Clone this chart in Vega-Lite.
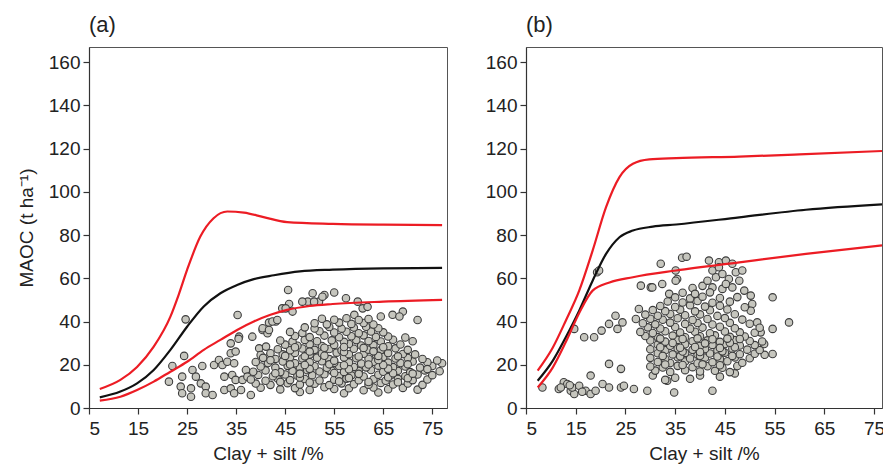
{
 "$schema": "https://vega.github.io/schema/vega-lite/v6.json",
 "background": "white",
 "padding": {"left": 16, "top": 13, "right": 0, "bottom": 0},
 "spacing": 35,
 "config": {
  "view": {"stroke": "#555555", "strokeWidth": 1},
  "axis": {"labelFont": "Liberation Sans", "labelFontSize": 19, "labelColor": "#222222", "titleFont": "Liberation Sans", "titleFontSize": 19, "titleFontWeight": "normal", "titleColor": "#222222", "domainColor": "#333333", "tickColor": "#333333", "grid": false, "domainWidth": 1.2, "tickWidth": 1.2},
  "title": {"font": "Liberation Sans", "fontSize": 22, "fontWeight": "normal", "anchor": "start", "frame": "group", "color": "#222222"}
 },
 "datasets": {
  "a_lines": [
   {"x":7.2,"y":8.8,"s":"upper"},{"x":11.4,"y":13,"s":"upper"},{"x":14.8,"y":19,"s":"upper"},{"x":18.2,"y":28.4,"s":"upper"},{"x":21.6,"y":42.3,"s":"upper"},{"x":23.3,"y":52.5,"s":"upper"},{"x":25,"y":63.9,"s":"upper"},{"x":27.7,"y":79.3,"s":"upper"},{"x":30.4,"y":87.8,"s":"upper"},{"x":33.2,"y":90.9,"s":"upper"},{"x":36.6,"y":90.4,"s":"upper"},{"x":40.6,"y":88.3,"s":"upper"},{"x":45.4,"y":86,"s":"upper"},{"x":54.7,"y":85.2,"s":"upper"},{"x":65,"y":84.8,"s":"upper"},{"x":77,"y":84.6,"s":"upper"},
   {"x":7.2,"y":4.9,"s":"mean"},{"x":11.4,"y":7.6,"s":"mean"},{"x":14.8,"y":11.4,"s":"mean"},{"x":18.2,"y":17.6,"s":"mean"},{"x":21.6,"y":26.9,"s":"mean"},{"x":25,"y":37.6,"s":"mean"},{"x":28.4,"y":47,"s":"mean"},{"x":31.8,"y":53.1,"s":"mean"},{"x":35.2,"y":56.9,"s":"mean"},{"x":38.6,"y":59.6,"s":"mean"},{"x":42.7,"y":61.4,"s":"mean"},{"x":48,"y":63.2,"s":"mean"},{"x":54.7,"y":64,"s":"mean"},{"x":65,"y":64.6,"s":"mean"},{"x":77,"y":64.8,"s":"mean"},
   {"x":7.2,"y":3.4,"s":"lower"},{"x":11.4,"y":5.2,"s":"lower"},{"x":14.8,"y":8.3,"s":"lower"},{"x":18.2,"y":12.2,"s":"lower"},{"x":21.6,"y":16.8,"s":"lower"},{"x":25,"y":21.4,"s":"lower"},{"x":28.4,"y":26.9,"s":"lower"},{"x":31.8,"y":31.5,"s":"lower"},{"x":35.2,"y":36.1,"s":"lower"},{"x":38.6,"y":40,"s":"lower"},{"x":42,"y":43.1,"s":"lower"},{"x":45.4,"y":45.4,"s":"lower"},{"x":50,"y":47.2,"s":"lower"},{"x":54.7,"y":48.1,"s":"lower"},{"x":65,"y":49.2,"s":"lower"},{"x":77,"y":50,"s":"lower"}
  ],
  "b_lines": [
   {"x":7.35,"y":17.3,"s":"upper"},{"x":10.4,"y":28,"s":"upper"},{"x":13,"y":40.4,"s":"upper"},{"x":15.7,"y":54.3,"s":"upper"},{"x":18.4,"y":72.8,"s":"upper"},{"x":21.1,"y":92.9,"s":"upper"},{"x":23.8,"y":106.8,"s":"upper"},{"x":26.5,"y":113,"s":"upper"},{"x":29.8,"y":115,"s":"upper"},{"x":35.2,"y":115.6,"s":"upper"},{"x":47.9,"y":116.3,"s":"upper"},{"x":60,"y":117.3,"s":"upper"},{"x":76.6,"y":118.9,"s":"upper"},
   {"x":7.35,"y":12.6,"s":"mean"},{"x":10.4,"y":21.9,"s":"mean"},{"x":13,"y":32.7,"s":"mean"},{"x":15.7,"y":45,"s":"mean"},{"x":18.4,"y":58.9,"s":"mean"},{"x":21.1,"y":71.3,"s":"mean"},{"x":23.8,"y":79,"s":"mean"},{"x":26.5,"y":82.1,"s":"mean"},{"x":30.5,"y":83.9,"s":"mean"},{"x":35.2,"y":84.9,"s":"mean"},{"x":47.9,"y":88.2,"s":"mean"},{"x":61.3,"y":91.7,"s":"mean"},{"x":76.6,"y":94.2,"s":"mean"},
   {"x":7.35,"y":9.5,"s":"lower"},{"x":10.4,"y":18.8,"s":"lower"},{"x":13,"y":30.5,"s":"lower"},{"x":15.7,"y":44,"s":"lower"},{"x":18.4,"y":54.3,"s":"lower"},{"x":21.8,"y":58.1,"s":"lower"},{"x":26.5,"y":60.5,"s":"lower"},{"x":35.2,"y":63.6,"s":"lower"},{"x":47.9,"y":67.4,"s":"lower"},{"x":61.3,"y":71.3,"s":"lower"},{"x":76.6,"y":75.2,"s":"lower"}
  ],
  "a_pts": [
   {"x":24.7,"y":41},{"x":35.3,"y":43},{"x":45.6,"y":54.6},{"x":49.6,"y":49.2},{"x":44.4,"y":46.1},{"x":45.8,"y":48.1},{"x":41.7,"y":39.5},{"x":43.1,"y":40},{"x":40.4,"y":36.1},{"x":41.4,"y":34.6},{"x":38.3,"y":33},{"x":35.6,"y":33},{"x":33.9,"y":29.9},{"x":24.4,"y":24.1},{"x":22,"y":19.4},{"x":21.3,"y":12.2},{"x":24,"y":14.5},{"x":23.7,"y":9.9},{"x":24,"y":6.8},{"x":25.8,"y":9.1},{"x":25.8,"y":5.2},{"x":26.1,"y":17.6},{"x":26.8,"y":14.5},{"x":28.1,"y":19.4},{"x":27.8,"y":11.4},{"x":28.8,"y":9.9},{"x":28.8,"y":6.8},{"x":30.2,"y":6},{"x":30.5,"y":19.9},{"x":31.5,"y":22.2},{"x":32.2,"y":19.9},{"x":32.6,"y":14.5},{"x":34.2,"y":15.3},{"x":34.9,"y":13},{"x":32.6,"y":8.3},{"x":33.9,"y":9.1},{"x":34.6,"y":6.8},{"x":33.9,"y":25.3},{"x":34.9,"y":26.1},{"x":33.2,"y":21.4},{"x":34.6,"y":20.7},{"x":38,"y":6},{"x":36.3,"y":13},{"x":36,"y":8.3},{"x":37,"y":17.6},{"x":37.3,"y":14.5},{"x":39.7,"y":27.6},{"x":41.1,"y":28.4},{"x":40,"y":24.5},{"x":41.7,"y":23.7},
   {"x":35.5,"y":32},{"x":40.4,"y":36.9},{"x":41.7,"y":36.1},{"x":42.4,"y":40},{"x":43.4,"y":40.7},{"x":45.1,"y":46.1},{"x":46.5,"y":44.6},{"x":48.5,"y":49.2},{"x":50.6,"y":53.1},{"x":51.9,"y":49.2},{"x":53,"y":52.3},{"x":55,"y":53.4},{"x":57.4,"y":50.8},{"x":59.8,"y":49.2},{"x":60.8,"y":46.1},{"x":61.8,"y":46.8},{"x":59.1,"y":43.1},{"x":64.5,"y":42.3},{"x":66.9,"y":43.1},{"x":69,"y":44.6},{"x":68.3,"y":42.3},{"x":72,"y":40.7},{"x":52.6,"y":51.5},{"x":50.9,"y":49.2},
   {"x":57,"y":6.8},{"x":64,"y":7.2},{"x":48,"y":7.4},
   {"x":40,"y":9.4},{"x":44,"y":8.6},{"x":47,"y":9.2},{"x":50,"y":8.3},{"x":53,"y":9.6},{"x":55,"y":8.8},{"x":58,"y":9.1},{"x":61,"y":8.2},{"x":63,"y":9.5},{"x":66,"y":8.7},{"x":69,"y":9.3},{"x":72,"y":8.5},
   {"x":39,"y":11.3},{"x":42,"y":10.7},{"x":45.5,"y":11.5},{"x":48,"y":10.9},{"x":51,"y":11.2},{"x":54,"y":10.6},{"x":56.5,"y":11.4},{"x":59,"y":11},{"x":62,"y":10.8},{"x":64.5,"y":11.6},{"x":67,"y":10.9},{"x":70,"y":11.3},{"x":73,"y":10.7},
   {"x":38,"y":13.2},{"x":41,"y":12.6},{"x":43.5,"y":13.5},{"x":46,"y":12.9},{"x":49,"y":13.4},{"x":52,"y":12.7},{"x":55,"y":13.1},{"x":57.5,"y":13.6},{"x":60,"y":12.8},{"x":63,"y":13.3},{"x":65.5,"y":12.6},{"x":68,"y":13.5},{"x":71,"y":12.9},{"x":74,"y":13.2},
   {"x":39.5,"y":15.3},{"x":42.5,"y":14.7},{"x":45,"y":15.5},{"x":47.5,"y":14.9},{"x":50.5,"y":15.2},{"x":53,"y":15.6},{"x":56,"y":14.8},{"x":58.5,"y":15.1},{"x":61,"y":14.6},{"x":64,"y":15.4},{"x":66.5,"y":15},{"x":69.5,"y":14.7},{"x":72,"y":15.5},{"x":75,"y":15.2},
   {"x":38.5,"y":16.8},{"x":41,"y":17.4},{"x":44,"y":16.6},{"x":46.5,"y":17.2},{"x":49.5,"y":17.5},{"x":52,"y":16.9},{"x":54.5,"y":17.3},{"x":57,"y":16.7},{"x":60,"y":17.1},{"x":62.5,"y":17.6},{"x":65,"y":16.8},{"x":68,"y":17.2},{"x":70.5,"y":16.6},{"x":73.5,"y":17.4},{"x":76.5,"y":17},
   {"x":40,"y":19.2},{"x":43,"y":18.7},{"x":45.5,"y":19.5},{"x":48,"y":18.9},{"x":51,"y":19.3},{"x":53.5,"y":18.6},{"x":56,"y":19.4},{"x":59,"y":19},{"x":61.5,"y":18.8},{"x":64,"y":19.6},{"x":67,"y":18.9},{"x":69.5,"y":19.2},{"x":72.5,"y":18.7},{"x":75,"y":19.4},
   {"x":39,"y":21.3},{"x":41.5,"y":20.8},{"x":44.5,"y":21.5},{"x":47,"y":20.7},{"x":50,"y":21.2},{"x":52.5,"y":21.6},{"x":55,"y":20.9},{"x":58,"y":21.1},{"x":60.5,"y":20.6},{"x":63,"y":21.4},{"x":66,"y":21},{"x":68.5,"y":20.8},{"x":71,"y":21.5},{"x":74,"y":21.2},{"x":77,"y":20.7},
   {"x":40.5,"y":23.2},{"x":43,"y":22.7},{"x":46,"y":23.5},{"x":48.5,"y":22.9},{"x":51.5,"y":23.3},{"x":54,"y":22.6},{"x":57,"y":23.4},{"x":59.5,"y":23},{"x":62,"y":22.8},{"x":65,"y":23.6},{"x":67.5,"y":22.9},{"x":70,"y":23.1},{"x":73,"y":22.7},
   {"x":42,"y":25.3},{"x":44.5,"y":24.8},{"x":47,"y":25.5},{"x":50,"y":24.7},{"x":52.5,"y":25.2},{"x":55.5,"y":25.6},{"x":58,"y":24.9},{"x":61,"y":25.1},{"x":63.5,"y":24.6},{"x":66,"y":25.4},{"x":69,"y":25},{"x":71.5,"y":24.8},
   {"x":43.5,"y":27.2},{"x":46,"y":26.7},{"x":48.5,"y":27.5},{"x":51,"y":26.9},{"x":54,"y":27.3},{"x":56.5,"y":26.6},{"x":59,"y":27.4},{"x":62,"y":27},{"x":64.5,"y":26.8},{"x":67.5,"y":27.6},{"x":70,"y":26.9},
   {"x":45,"y":29.3},{"x":47.5,"y":28.8},{"x":50,"y":29.5},{"x":52.5,"y":28.7},{"x":55,"y":29.2},{"x":58,"y":29.6},{"x":60.5,"y":28.9},{"x":63,"y":29.1},{"x":66,"y":28.6},{"x":68.5,"y":29.4},
   {"x":44,"y":31.2},{"x":46.5,"y":30.7},{"x":49,"y":31.5},{"x":51.5,"y":30.9},{"x":54.5,"y":31.3},{"x":57,"y":30.6},{"x":59.5,"y":31.4},{"x":62,"y":31},{"x":64.5,"y":30.8},{"x":67,"y":31.6},{"x":71,"y":30.9},
   {"x":47,"y":33.3},{"x":50,"y":32.8},{"x":53,"y":33.5},{"x":56,"y":32.7},{"x":58.5,"y":33.2},{"x":61,"y":33.6},{"x":63.5,"y":32.9},{"x":66,"y":33.1},{"x":69.5,"y":32.6},
   {"x":46,"y":35.2},{"x":48.5,"y":34.7},{"x":52,"y":35.5},{"x":55,"y":34.9},{"x":57.5,"y":35.3},{"x":60,"y":34.6},{"x":62.5,"y":35.4},{"x":65,"y":35},
   {"x":49,"y":37.3},{"x":51,"y":36.8},{"x":54,"y":37.5},{"x":56.5,"y":36.7},{"x":59,"y":37.2},{"x":61.5,"y":37.6},{"x":64,"y":36.9},
   {"x":51,"y":39.2},{"x":53.5,"y":38.7},{"x":56,"y":39.5},{"x":58.5,"y":38.9},{"x":61,"y":39.3},{"x":63,"y":38.6},
   {"x":52.5,"y":41.3},{"x":55,"y":40.8},{"x":57.5,"y":41.5},{"x":60,"y":40.7},{"x":62,"y":41.2},
   {"x":44,"y":12.1},{"x":50,"y":11.8},{"x":56,"y":12.3},{"x":62,"y":12},{"x":68,"y":11.9},
   {"x":48,"y":14.1},{"x":58,"y":13.9},{"x":66,"y":14.2},{"x":70,"y":13.8},
   {"x":43,"y":16.1},{"x":48,"y":15.9},{"x":55,"y":16.2},{"x":60,"y":15.8},{"x":67,"y":16.1},{"x":71,"y":15.9},
   {"x":50,"y":18.1},{"x":58,"y":17.9},{"x":66,"y":18.2},{"x":74,"y":18},
   {"x":46,"y":20.1},{"x":49,"y":19.9},{"x":54,"y":20.2},{"x":57,"y":19.8},{"x":62,"y":20.1},{"x":65,"y":19.9},{"x":70,"y":20.2},
   {"x":42,"y":22.1},{"x":55,"y":21.9},{"x":64,"y":22.2},{"x":76,"y":22},
   {"x":45,"y":24.1},{"x":49,"y":23.9},{"x":53,"y":24.2},{"x":60,"y":23.8},{"x":64,"y":24.1},{"x":68,"y":23.9},
   {"x":50,"y":26.1},{"x":57,"y":25.9},{"x":63,"y":26.2},
   {"x":47,"y":28.1},{"x":53,"y":27.9},{"x":57,"y":28.2},{"x":61,"y":27.8},{"x":65,"y":28.1}
  ],
  "b_pts": [
   {"x":8.3,"y":9.5},{"x":11.6,"y":8.8},{"x":12.6,"y":11.9},{"x":13.3,"y":11.1},{"x":14,"y":8},{"x":14.7,"y":6.5},{"x":14.3,"y":9.5},{"x":15.7,"y":10.3},{"x":17,"y":8},{"x":18,"y":6.5},{"x":19,"y":8},{"x":18,"y":15},{"x":20.4,"y":11.1},{"x":21.7,"y":9.5},{"x":24.1,"y":9.5},{"x":24.7,"y":10.3},{"x":26.7,"y":8.8},{"x":29.4,"y":8},{"x":34.8,"y":7.2},{"x":42.5,"y":8},{"x":21.7,"y":20.4},{"x":24.1,"y":18.1},{"x":12,"y":9.5},{"x":16.3,"y":7.5},{"x":13.8,"y":10.5},
   {"x":14.7,"y":36.6},{"x":16.7,"y":32.7},{"x":18.7,"y":32.7},{"x":20.2,"y":35.8},{"x":21.7,"y":38.9},{"x":23,"y":42.7},{"x":24.4,"y":39.6},{"x":23.4,"y":36.6},{"x":19.3,"y":62.8},{"x":19.7,"y":63.6},{"x":27.1,"y":41.2},{"x":28.1,"y":56.6},{"x":30.1,"y":55.8},{"x":32.1,"y":66.7},{"x":33.8,"y":52.8},{"x":35.4,"y":59.7},{"x":35.1,"y":63.6},{"x":36.4,"y":69.5},{"x":37.3,"y":70},{"x":54.6,"y":51.2},{"x":54.6,"y":36.6},{"x":57.9,"y":39.6},{"x":54.6,"y":25},{"x":33.4,"y":12.6},{"x":27.7,"y":45.8},{"x":32.4,"y":57.4},{"x":35.1,"y":58.9},{"x":30.4,"y":55.8},{"x":38.5,"y":55.5},{"x":40.5,"y":56.5},
   {"x":41.8,"y":68.2},{"x":43.8,"y":67.4},{"x":45.2,"y":68.2},{"x":46.5,"y":66.7},{"x":41.5,"y":58.9},{"x":43.2,"y":60.5},{"x":44.5,"y":62},{"x":45.8,"y":59.7},{"x":47.2,"y":62.8},{"x":47.9,"y":58.9},{"x":42.5,"y":55.8},{"x":44.5,"y":55.1},{"x":46.5,"y":55.8},{"x":48.5,"y":63.6},{"x":45.2,"y":57.4},{"x":42.5,"y":63.6},{"x":43.8,"y":65.1},{"x":48.9,"y":54.3},{"x":50.2,"y":52},{"x":50.5,"y":48.1},
   {"x":50.2,"y":45},{"x":51.5,"y":39.6},{"x":52.2,"y":35},{"x":52.9,"y":29.6},
   {"x":30.5,"y":15},{"x":35,"y":14},{"x":40,"y":15},{"x":44,"y":14.5},{"x":47,"y":16},{"x":33,"y":13},{"x":38,"y":13.5},
   {"x":31,"y":17.3},{"x":34,"y":16.7},{"x":37,"y":17.5},{"x":40,"y":16.9},{"x":43,"y":17.2},{"x":46,"y":16.6},
   {"x":30,"y":19.2},{"x":32.5,"y":18.7},{"x":35.5,"y":19.5},{"x":38.5,"y":18.9},{"x":41.5,"y":19.3},{"x":44.5,"y":18.6},{"x":47.5,"y":19.4},
   {"x":31.5,"y":21.3},{"x":34,"y":20.8},{"x":37,"y":21.5},{"x":39.5,"y":20.7},{"x":42.5,"y":21.2},{"x":45.5,"y":21.6},{"x":48.5,"y":20.9},
   {"x":30,"y":23.2},{"x":33,"y":22.7},{"x":35.5,"y":23.5},{"x":38,"y":22.9},{"x":41,"y":23.3},{"x":44,"y":22.6},{"x":47,"y":23.4},{"x":50,"y":23},
   {"x":31.5,"y":25.3},{"x":34.5,"y":24.8},{"x":37,"y":25.5},{"x":39.5,"y":24.7},{"x":42,"y":25.2},{"x":45,"y":25.6},{"x":48,"y":24.9},{"x":51,"y":25.1},{"x":53,"y":24.6},
   {"x":30,"y":27.2},{"x":33,"y":26.7},{"x":35.5,"y":27.5},{"x":38.5,"y":26.9},{"x":41,"y":27.3},{"x":43.5,"y":26.6},{"x":46.5,"y":27.4},{"x":49.5,"y":27},{"x":52,"y":26.8},
   {"x":31.5,"y":29.3},{"x":34,"y":28.8},{"x":37,"y":29.5},{"x":40,"y":28.7},{"x":42.5,"y":29.2},{"x":45,"y":29.6},{"x":48,"y":28.9},{"x":51,"y":29.1},
   {"x":30,"y":31.2},{"x":33,"y":30.7},{"x":35.5,"y":31.5},{"x":38.5,"y":30.9},{"x":41.5,"y":31.3},{"x":44,"y":30.6},{"x":47,"y":31.4},{"x":50,"y":31},{"x":52.5,"y":30.8},
   {"x":29,"y":33.3},{"x":31.5,"y":32.8},{"x":34.5,"y":33.5},{"x":37,"y":32.7},{"x":40,"y":33.2},{"x":43,"y":33.6},{"x":46,"y":32.9},{"x":49,"y":33.1},
   {"x":28,"y":35.2},{"x":30.5,"y":34.7},{"x":33,"y":35.5},{"x":36,"y":34.9},{"x":39,"y":35.3},{"x":42,"y":34.6},{"x":45,"y":35.4},{"x":48,"y":35},{"x":51,"y":34.8},
   {"x":29.5,"y":37.3},{"x":32,"y":36.8},{"x":35,"y":37.5},{"x":38,"y":36.7},{"x":40.5,"y":37.2},{"x":44,"y":37.6},{"x":47,"y":36.9},{"x":52,"y":37.1},
   {"x":28.5,"y":39.2},{"x":31,"y":38.7},{"x":34,"y":39.5},{"x":37,"y":38.9},{"x":39.5,"y":39.3},{"x":42.5,"y":38.6},{"x":46,"y":39.4},{"x":50,"y":39},
   {"x":30,"y":41.3},{"x":32.5,"y":40.8},{"x":35.5,"y":41.5},{"x":38.5,"y":40.7},{"x":41.5,"y":41.2},{"x":45,"y":41.6},{"x":48.5,"y":40.9},
   {"x":29,"y":43.2},{"x":31.5,"y":42.7},{"x":34,"y":43.5},{"x":37,"y":42.9},{"x":40,"y":43.3},{"x":43.5,"y":42.6},{"x":47,"y":43.4},
   {"x":30.5,"y":45.3},{"x":33,"y":44.8},{"x":36,"y":45.5},{"x":39,"y":44.7},{"x":42,"y":45.2},{"x":45.5,"y":45.6},
   {"x":32,"y":47.2},{"x":35,"y":46.7},{"x":38,"y":47.5},{"x":41,"y":46.9},{"x":44,"y":47.3},{"x":49,"y":46.6},
   {"x":33.5,"y":49.3},{"x":36.5,"y":48.8},{"x":39.5,"y":49.5},{"x":42.5,"y":48.7},{"x":46,"y":49.2},
   {"x":35,"y":51.2},{"x":38,"y":50.7},{"x":40.5,"y":51.5},{"x":44,"y":50.9},{"x":47.5,"y":51.3},
   {"x":36.5,"y":53.3},{"x":39,"y":52.8},{"x":42,"y":53.5},
   {"x":33,"y":20.1},{"x":36.5,"y":19.9},{"x":40.5,"y":20.2},{"x":44,"y":19.8},
   {"x":32.5,"y":24.1},{"x":36,"y":23.9},{"x":40,"y":24.2},{"x":43.5,"y":23.8},{"x":46.5,"y":24.1},
   {"x":36.5,"y":26.1},{"x":40,"y":25.9},{"x":44.5,"y":26.2},
   {"x":32,"y":28.1},{"x":36,"y":27.9},{"x":39,"y":28.2},{"x":44,"y":27.8},{"x":47,"y":28.1},
   {"x":34.5,"y":30.1},{"x":41,"y":29.9},{"x":46,"y":30.2},
   {"x":32,"y":32.1},{"x":36.5,"y":31.9},{"x":39.5,"y":32.2},{"x":42.5,"y":31.8},{"x":45.5,"y":32.1},{"x":48,"y":31.9}
  ]
 },
 "hconcat": [
  {
   "width": 358, "height": 361,
   "title": {"text": "(a)", "offset": 10},
   "layer": [
    {
     "data": {"name": "a_pts"},
     "mark": {"type": "circle", "size": 56, "fill": "#c6c6be", "stroke": "#3c3c3c", "strokeWidth": 1.1, "opacity": 1, "fillOpacity": 1},
     "encoding": {
      "x": {"field": "x", "type": "quantitative", "scale": {"domain": [5, 78], "nice": false, "zero": false},
            "axis": {"title": "Clay + silt /%", "values": [5,10,15,20,25,30,35,40,45,50,55,60,65,70,75], "labelExpr": "(datum.value - 5) % 10 === 0 ? datum.label : ''", "tickSize": 6, "labelPadding": 5, "titlePadding": 6}},
      "y": {"field": "y", "type": "quantitative", "scale": {"domain": [0, 167], "nice": false},
            "axis": {"title": "MAOC (t ha⁻¹)", "values": [0,10,20,30,40,50,60,70,80,90,100,110,120,130,140,150,160], "labelExpr": "datum.value % 20 === 0 ? datum.label : ''", "tickSize": 6, "labelPadding": 3, "titlePadding": 12}}
     }
    },
    {
     "data": {"name": "a_lines"},
     "mark": {"type": "line", "strokeWidth": 2.2, "interpolate": "monotone"},
     "encoding": {
      "x": {"field": "x", "type": "quantitative"},
      "y": {"field": "y", "type": "quantitative"},
      "color": {"field": "s", "type": "nominal", "scale": {"domain": ["upper", "mean", "lower"], "range": ["#ec1c24", "#111111", "#ec1c24"]}, "legend": null}
     }
    }
   ]
  },
  {
   "width": 356, "height": 361,
   "title": {"text": "(b)", "offset": 10},
   "layer": [
    {
     "data": {"name": "b_pts"},
     "mark": {"type": "circle", "size": 56, "fill": "#c6c6be", "stroke": "#3c3c3c", "strokeWidth": 1.1, "opacity": 1, "fillOpacity": 1},
     "encoding": {
      "x": {"field": "x", "type": "quantitative", "scale": {"domain": [5, 76.6], "nice": false, "zero": false},
            "axis": {"title": "Clay + silt /%", "values": [5,10,15,20,25,30,35,40,45,50,55,60,65,70,75], "labelExpr": "(datum.value - 5) % 10 === 0 ? datum.label : ''", "tickSize": 6, "labelPadding": 5, "titlePadding": 6}},
      "y": {"field": "y", "type": "quantitative", "scale": {"domain": [0, 167], "nice": false},
            "axis": {"title": null, "values": [0,10,20,30,40,50,60,70,80,90,100,110,120,130,140,150,160], "labelExpr": "datum.value % 20 === 0 ? datum.label : ''", "tickSize": 6, "labelPadding": 3}}
     }
    },
    {
     "data": {"name": "b_lines"},
     "mark": {"type": "line", "strokeWidth": 2.2, "interpolate": "monotone"},
     "encoding": {
      "x": {"field": "x", "type": "quantitative"},
      "y": {"field": "y", "type": "quantitative"},
      "color": {"field": "s", "type": "nominal", "scale": {"domain": ["upper", "mean", "lower"], "range": ["#ec1c24", "#111111", "#ec1c24"]}, "legend": null}
     }
    }
   ]
  }
 ]
}
